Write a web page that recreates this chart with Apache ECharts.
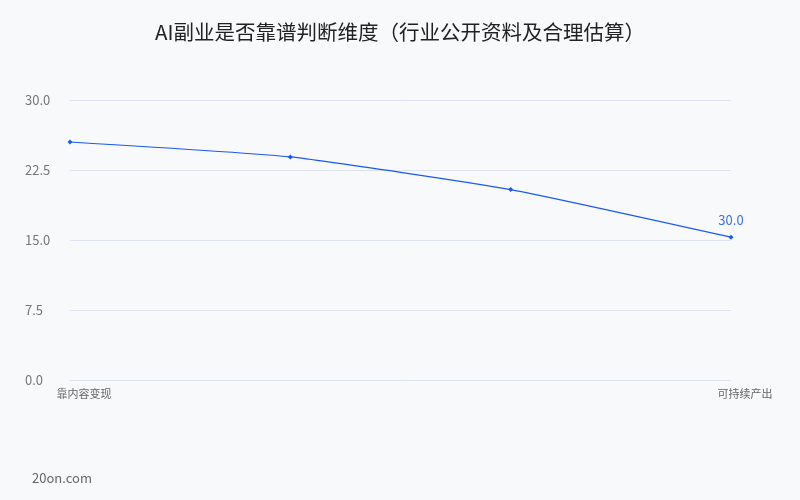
<!DOCTYPE html>
<html>
<head>
<meta charset="utf-8">
<script src="https://cdn.jsdelivr.net/npm/echarts@6/dist/echarts.min.js"></script>
<style>
  html, body { margin: 0; padding: 0; background: #f8f9fb; }
  #chart { width: 800px; height: 500px; }
</style>
</head>
<body>
<div id="chart"></div>
<script>
// 维度（中间两项不显示标签）
var categories = ['靠内容变现', '需持续学习', '有稳定需求', '可持续产出'];
var values = [25.5, 23.9, 20.4, 15.3];
var pointLabels = ['', '', '', '30.0'];
var yTicks = { min: 0, max: 30, interval: 7.5 };

var chart = echarts.init(document.getElementById('chart'));
var fontFamily = '"Noto Sans CJK SC", "Noto Sans", sans-serif';

chart.setOption({
  backgroundColor: '#f8f9fb',
  textStyle: { fontFamily: fontFamily },
  title: {
    text: 'AI副业是否靠谱判断维度（行业公开资料及合理估算）',
    left: 'center',
    top: 17,
    textStyle: { fontSize: 20.5, fontWeight: 'normal', color: '#222', fontFamily: fontFamily }
  },
  graphic: [{
    type: 'text',
    left: 32,
    top: 472,
    style: { text: '20on.com', fontSize: 13, fill: '#666', fontFamily: fontFamily }
  }],
  grid: { left: 70, right: 69, top: 100, bottom: 120 },
  xAxis: {
    type: 'category',
    data: categories,
    boundaryGap: false,
    axisLine: { show: false },
    axisTick: { show: false },
    axisLabel: {
      fontSize: 11,
      color: '#666',
      margin: 8,
      padding: [0, 0, 0, 28],
      interval: function (i) { return i === 0 || i === categories.length - 1; }
    }
  },
  yAxis: {
    type: 'value',
    min: yTicks.min,
    max: yTicks.max,
    interval: yTicks.interval,
    axisLine: { show: false },
    axisTick: { show: false },
    axisLabel: {
      fontSize: 13,
      color: '#777',
      margin: 45,
      align: 'left',
      formatter: function (v) { return v.toFixed(1); }
    },
    splitLine: { lineStyle: { color: '#dde3f0', width: 1 } }
  },
  series: [{
    type: 'line',
    data: values,
    smooth: 0.15,
    symbol: 'diamond',
    symbolSize: 5,
    lineStyle: { color: '#1a5af0', width: 1.2 },
    itemStyle: { color: '#1a5af0' },
    label: {
      show: true,
      position: 'top',
      distance: 8,
      fontSize: 13,
      color: '#3b6fe6',
      formatter: function (p) { return pointLabels[p.dataIndex]; }
    }
  }]
});
</script>
</body>
</html>
